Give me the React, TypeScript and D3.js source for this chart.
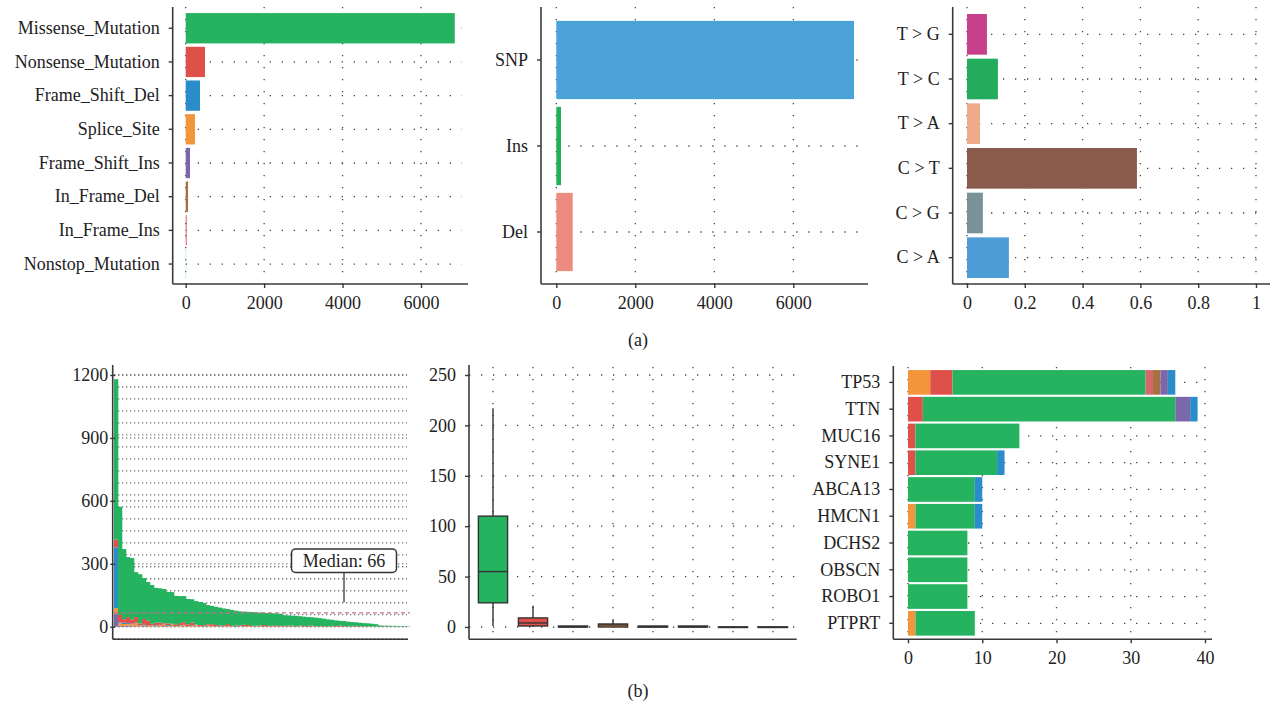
import React, { useEffect, useRef } from 'react';
import * as d3 from 'd3';

// ---- data ----
const mutationClasses = [
  'Missense_Mutation', 'Nonsense_Mutation', 'Frame_Shift_Del', 'Splice_Site',
  'Frame_Shift_Ins', 'In_Frame_Del', 'In_Frame_Ins', 'Nonstop_Mutation',
];
const classCounts = [6861, 492, 365, 237, 110, 59, 25, 10];
const classColors = ['#25b35f', '#e0504a', '#2a8cc8', '#f5953b', '#7a68ab', '#a8703f', '#dc5a60', '#8ccfe6'];

const variantTypes = ['SNP', 'Ins', 'Del'];
const variantCounts = [7537, 119, 415];
const variantColors = ['#4aa2d8', '#23b05a', '#ee8b80'];

const snvClasses = ['T > G', 'T > C', 'T > A', 'C > T', 'C > G', 'C > A'];
const snvFractions = [0.069, 0.107, 0.045, 0.588, 0.055, 0.145];
const snvColors = ['#c8408b', '#24ac5d', '#eeaa8a', '#8a5a4c', '#7a9297', '#4f9dd6'];

// variants per sample (sorted), and the non-missense parts of each bar
const sampleTotals = [
  1180, 572, 370, 332, 327, 260, 250, 232, 213, 199, 185, 183, 180, 166, 165, 147, 146, 146, 132, 131,
  122, 118, 113, 103, 99, 95, 91, 87, 84, 80, 76, 73, 72, 71, 70, 68, 67, 66, 65, 64,
  63, 62, 55, 54, 53, 52, 50, 48, 46, 45, 43, 41, 38, 35, 33, 30, 28, 27, 24, 22,
  21, 19, 17, 16, 14, 12, 6, 5, 5, 4, 4, 3, 3, 2,
];
const sampleNonsense = [
  37, 35, 17, 29, 20, 25, 8, 24, 24, 6, 12, 10, 5, 8, 4, 6, 10, 12, 8, 14,
  3, 5, 4, 6, 8, 5, 3, 4, 9, 2, 3, 4, 6, 5, 3, 2, 4, 6, 3, 2,
  5, 3, 2, 4, 3, 2, 3, 2, 4, 3, 1, 2, 3, 1, 2, 3, 4, 2, 1, 2,
  3, 1, 2, 1, 0, 1, 0, 2, 1, 1, 0, 1, 0, 1,
];
const sampleFrameShiftDel = [
  290, 5, 6, 4, 3, 3, 2, 4, 0, 2, 3, 0, 2, 4, 1, 0, 2, 1, 0, 3,
  1, 0, 2, 0, 1, 0, 2, 0, 1, 0, 3, 0, 1, 0, 0, 2, 0, 1, 0, 0,
  1, 0, 0, 2, 0, 0, 1, 0, 0, 0, 1, 0, 0, 0, 1, 0, 0, 0, 0, 2,
  0, 0, 0, 0, 0, 1, 0, 0, 0, 0, 0, 0, 0, 0,
];
const sampleSplice = [
  28, 12, 10, 8, 9, 16, 4, 6, 3, 5, 2, 8, 6, 3, 7, 2, 4, 6, 2, 3,
  5, 2, 1, 4, 3, 2, 1, 2, 3, 1, 0, 2, 1, 3, 0, 1, 2, 0, 1, 2,
  0, 1, 2, 0, 1, 0, 2, 1, 0, 1, 0, 1, 0, 0, 1, 0, 0, 1, 0, 0,
  1, 0, 0, 0, 1, 0, 0, 0, 0, 0, 0, 0, 0, 0,
];
const sampleFrameShiftIns = [
  60, 4, 3, 5, 2, 2, 1, 3, 2, 1, 2, 1, 3, 1, 2, 1, 1, 2, 1, 0,
  1, 1, 0, 2, 0, 1, 0, 1, 0, 1, 0, 0, 1, 0, 1, 0, 0, 1, 0, 0,
  1, 0, 0, 0, 1, 0, 0, 0, 0, 1, 0, 0, 0, 0, 0, 0, 1, 0, 0, 0,
  0, 0, 0, 0, 0, 0, 0, 0, 0, 0, 0, 0, 0, 0,
];

// variant classification summary (box plot per class)
const boxLow = [1, 0, 0, 0, 0, 0, 0, 0];
const boxQ1 = [24, 1, 0, 0, 0, 0, 0, 0];
const boxMedian = [55, 4, 0, 2, 0, 0, 0, 0];
const boxQ3 = [110, 9, 1, 3, 1, 1, 0, 0];
const boxHigh = [217, 21, 1, 7, 1, 1, 0, 0];

// top 10 mutated genes
const genes = ['TP53', 'TTN', 'MUC16', 'SYNE1', 'ABCA13', 'HMCN1', 'DCHS2', 'OBSCN', 'ROBO1', 'PTPRT'];
const geneSplice = [3, 0, 0, 0, 0, 1, 0, 0, 0, 1];
const geneNonsense = [3, 2, 1, 1, 0, 0, 0, 0, 0, 0];
const geneMissense = [26, 34, 14, 11, 9, 8, 8, 8, 8, 8];
const geneInFrameIns = [1, 0, 0, 0, 0, 0, 0, 0, 0, 0];
const geneInFrameDel = [1, 0, 0, 0, 0, 0, 0, 0, 0, 0];
const geneFrameShiftIns = [1, 2, 0, 0, 0, 0, 0, 0, 0, 0];
const geneFrameShiftDel = [1, 1, 0, 1, 1, 1, 0, 0, 0, 0];

const FONT = "'Liberation Serif', 'Times New Roman', serif";
const FONT_SIZE = '18px';
const AXIS = '#3a3a3a';
const TEXT = '#222';
const colorOf = (cls: string) => classColors[mutationClasses.indexOf(cls)];

type Sel = d3.Selection<SVGGElement, unknown, null, undefined>;

const styleAxis = (a: Sel) => {
  a.select('.domain').remove();
  a.selectAll('line').attr('stroke', AXIS).attr('stroke-width', 1.4);
  a.selectAll('text').attr('fill', TEXT).style('font-family', FONT).style('font-size', FONT_SIZE);
};

const line = (g: Sel, x1: number, y1: number, x2: number, y2: number, dense = false) =>
  g.append('line')
    .attr('x1', x1).attr('y1', y1).attr('x2', x2).attr('y2', y2)
    .attr('stroke', dense ? '#777' : '#444')
    .attr('stroke-width', 1.3)
    .attr('stroke-dasharray', dense ? '1.3,2.7' : '1.3,10.7');

const frame = (g: Sel, left: number, top: number, bottom: number, right: number) => {
  g.append('line').attr('x1', left).attr('x2', left).attr('y1', top).attr('y2', bottom)
    .attr('stroke', AXIS).attr('stroke-width', 1.6);
  g.append('line').attr('x1', left).attr('x2', right).attr('y1', bottom).attr('y2', bottom)
    .attr('stroke', AXIS).attr('stroke-width', 1.6);
};

interface HBarOpts {
  cats: string[];
  values: number[];
  colors: string[];
  x0: number; x1: number; v1: number;
  bandTop: number; bandBottom: number; pad: number;
  axisX: number; axisTop: number; axisY: number; axisRight: number; gridRight: number;
  ticks: number[];
}

const drawHBar = (svg: Sel, o: HBarOpts) => {
  const g = svg.append('g');
  const x = d3.scaleLinear().domain([0, o.v1]).range([o.x0, o.x1]);
  const y = d3.scaleBand<string>().domain(o.cats).range([o.bandTop, o.bandBottom])
    .paddingInner(o.pad).paddingOuter(o.pad / 2);
  o.ticks.forEach(t => line(g, x(t), o.axisTop, x(t), o.axisY));
  o.cats.forEach(c => line(g, x(0), y(c)! + y.bandwidth() / 2, o.gridRight, y(c)! + y.bandwidth() / 2));
  g.selectAll('rect.bar').data(o.cats).enter().append('rect')
    .attr('x', x(0))
    .attr('y', d => y(d)!)
    .attr('width', (_, i) => x(o.values[i]) - x(0))
    .attr('height', y.bandwidth())
    .attr('fill', (_, i) => o.colors[i]);
  frame(g, o.axisX, o.axisTop, o.axisY, o.axisRight);
  g.append('g').attr('transform', `translate(${o.axisX},0)`)
    .call(d3.axisLeft(y).tickSize(4).tickPadding(9)).call(styleAxis);
  g.append('g').attr('transform', `translate(0,${o.axisY})`)
    .call(d3.axisBottom(x).tickValues(o.ticks).tickFormat(d => String(d)).tickSize(4).tickPadding(8))
    .call(styleAxis);
};

const App: React.FC = () => {
  const svgRef = useRef<SVGSVGElement>(null);

  useEffect(() => {
    if (!svgRef.current) return;
    d3.select(svgRef.current).selectAll('*').remove();
    const svg = d3.select(svgRef.current).append('g') as Sel;

    // (a) left: variant classification
    drawHBar(svg, {
      cats: mutationClasses, values: classCounts, colors: classColors,
      x0: 185.7, x1: 421, v1: 6000, bandTop: 11.4, bandBottom: 280.9, pad: 0.1,
      axisX: 172.7, axisTop: 7, axisY: 284, axisRight: 468, gridRight: 462,
      ticks: [0, 2000, 4000, 6000],
    });
    // (a) middle: variant type
    drawHBar(svg, {
      cats: variantTypes, values: variantCounts, colors: variantColors,
      x0: 556.3, x1: 793.3, v1: 6000, bandTop: 17, bandBottom: 275, pad: 0.09,
      axisX: 541, axisTop: 7, axisY: 284, axisRight: 868, gridRight: 867,
      ticks: [0, 2000, 4000, 6000],
    });
    // (a) right: SNV class
    drawHBar(svg, {
      cats: snvClasses, values: snvFractions, colors: snvColors,
      x0: 967, x1: 1256, v1: 1, bandTop: 12, bandBottom: 280, pad: 0.09,
      axisX: 952.7, axisTop: 7, axisY: 284, axisRight: 1270, gridRight: 1267,
      ticks: [0, 0.2, 0.4, 0.6, 0.8, 1],
    });

    // (b) left: variants per sample
    {
      const g = svg.append('g');
      const rows = sampleTotals.map((t, i) => ({
        id: String(i),
        fsi: sampleFrameShiftIns[i],
        splice: sampleSplice[i],
        fsd: sampleFrameShiftDel[i],
        nonsense: sampleNonsense[i],
        missense: t - sampleFrameShiftIns[i] - sampleSplice[i] - sampleFrameShiftDel[i] - sampleNonsense[i],
      }));
      const keys = ['fsi', 'splice', 'fsd', 'nonsense', 'missense'];
      const keyColor: Record<string, string> = {
        fsi: colorOf('Frame_Shift_Ins'), splice: colorOf('Splice_Site'), fsd: colorOf('Frame_Shift_Del'),
        nonsense: colorOf('Nonsense_Mutation'), missense: colorOf('Missense_Mutation'),
      };
      const x = d3.scaleBand<string>().domain(rows.map(r => r.id)).range([114, 410]).padding(0);
      const y = d3.scaleLinear().domain([0, 1200]).range([626.7, 375]);
      const minor = d3.range(-1, 22).map(k => (k * 1200) / 21);
      minor.forEach(v => line(g, 114, y(v), 407, y(v), true));
      [0, 300, 600, 900, 1200].forEach(v => line(g, 114, y(v), 407, y(v), true));
      const stacked = d3.stack<any>().keys(keys)(rows);
      stacked.forEach(layer => {
        g.append('g').selectAll('rect').data(layer).enter().append('rect')
          .attr('x', d => x(d.data.id)!)
          .attr('width', x.bandwidth() + 0.3)
          .attr('y', d => y(d[1]))
          .attr('height', d => Math.max(0, y(d[0]) - y(d[1])))
          .attr('fill', keyColor[layer.key]);
      });
      const med = Math.floor(d3.median(sampleTotals) || 0);
      g.append('line').attr('x1', 114).attr('x2', 410).attr('y1', y(med)).attr('y2', y(med))
        .attr('stroke', '#c3708c').attr('stroke-width', 1.2).attr('stroke-dasharray', '4,3');
      const lx = x('57')! + 2;
      g.append('line').attr('x1', lx).attr('x2', lx).attr('y1', y(116)).attr('y2', y(259))
        .attr('stroke', '#555').attr('stroke-width', 1.5);
      g.append('rect').attr('x', lx - 52.5).attr('y', y(370)).attr('width', 105).attr('height', 23.4)
        .attr('rx', 4).attr('fill', '#fff').attr('stroke', '#333').attr('stroke-width', 1.5);
      g.append('text').attr('x', lx).attr('y', y(370) + 17.5).attr('text-anchor', 'middle')
        .attr('fill', TEXT).style('font-family', FONT).style('font-size', FONT_SIZE)
        .text(`Median: ${med}`);
      frame(g, 112.7, 365, 639.3, 408);
      const ax = g.append('g').attr('transform', 'translate(112.7,0)')
        .call(d3.axisLeft(y).tickValues([0, 300, 600, 900, 1200]).tickFormat(d => String(d))
          .tickSize(2.5).tickPadding(2));
      styleAxis(ax);
      ax.selectAll('.tick line').attr('x1', 2.5);
    }

    // (b) middle: box plot per class
    {
      const g = svg.append('g');
      const x = d3.scaleBand<string>().domain(mutationClasses).range([473, 793]).padding(0);
      const y = d3.scaleLinear().domain([0, 250]).range([627, 375]);
      const yt = [0, 50, 100, 150, 200, 250];
      const bw = x.bandwidth() * 0.73;
      yt.forEach(v => line(g, 469, y(v), 795, y(v)));
      mutationClasses.forEach(c => line(g, x(c)! + x.bandwidth() / 2, 367, x(c)! + x.bandwidth() / 2, 639));
      mutationClasses.forEach((c, i) => {
        const cx = x(c)! + x.bandwidth() / 2;
        g.append('line').attr('x1', cx).attr('x2', cx).attr('y1', y(boxHigh[i])).attr('y2', y(boxLow[i]))
          .attr('stroke', '#333').attr('stroke-width', 1.4);
        g.append('rect').attr('x', cx - bw / 2).attr('width', bw)
          .attr('y', y(boxQ3[i])).attr('height', Math.max(0.5, y(boxQ1[i]) - y(boxQ3[i])))
          .attr('fill', classColors[i]).attr('stroke', '#333').attr('stroke-width', 1.4);
        g.append('line').attr('x1', cx - bw / 2).attr('x2', cx + bw / 2)
          .attr('y1', y(boxMedian[i])).attr('y2', y(boxMedian[i]))
          .attr('stroke', '#333').attr('stroke-width', 1.4);
      });
      frame(g, 469, 365, 639.3, 796.7);
      g.append('g').attr('transform', 'translate(469,0)')
        .call(d3.axisLeft(y).tickValues(yt).tickSize(4).tickPadding(9)).call(styleAxis);
    }

    // (b) right: top 10 genes
    {
      const g = svg.append('g');
      const rows = genes.map((gn, i) => ({
        gene: gn,
        Splice_Site: geneSplice[i],
        Nonsense_Mutation: geneNonsense[i],
        Missense_Mutation: geneMissense[i],
        In_Frame_Ins: geneInFrameIns[i],
        In_Frame_Del: geneInFrameDel[i],
        Frame_Shift_Ins: geneFrameShiftIns[i],
        Frame_Shift_Del: geneFrameShiftDel[i],
      }));
      const keys = ['Splice_Site', 'Nonsense_Mutation', 'Missense_Mutation', 'In_Frame_Ins',
        'In_Frame_Del', 'Frame_Shift_Ins', 'Frame_Shift_Del'];
      const x = d3.scaleLinear().domain([0, 40]).range([908, 1205]);
      const y = d3.scaleBand<string>().domain(genes).range([369, 636.7]).paddingInner(0.08).paddingOuter(0.04);
      const xt = [0, 10, 20, 30, 40];
      xt.forEach(v => line(g, x(v), 367, x(v), 639));
      genes.forEach(gn => line(g, x(0), y(gn)! + y.bandwidth() / 2, 1207, y(gn)! + y.bandwidth() / 2));
      const stacked = d3.stack<any>().keys(keys)(rows);
      stacked.forEach(layer => {
        g.append('g').selectAll('rect').data(layer).enter().append('rect')
          .attr('y', d => y(d.data.gene)!)
          .attr('height', y.bandwidth())
          .attr('x', d => x(d[0]))
          .attr('width', d => x(d[1]) - x(d[0]))
          .attr('fill', layer.key === 'In_Frame_Ins' ? '#d4676c' : colorOf(layer.key));
      });
      frame(g, 893.3, 366, 639.3, 1212);
      g.append('g').attr('transform', 'translate(893.3,0)')
        .call(d3.axisLeft(y).tickSize(4).tickPadding(9)).call(styleAxis);
      g.append('g').attr('transform', 'translate(0,639.3)')
        .call(d3.axisBottom(x).tickValues(xt).tickSize(4).tickPadding(8)).call(styleAxis);
    }

    // captions
    [['(a)', 346], ['(b)', 697]].forEach(([t, yy]) => {
      svg.append('text').attr('x', 638).attr('y', yy as number).attr('text-anchor', 'middle')
        .attr('fill', TEXT).style('font-family', FONT).style('font-size', FONT_SIZE).text(t as string);
    });
  }, []);

  return (
    <svg
      ref={svgRef}
      width={1272}
      height={712}
      style={{ position: 'absolute', left: 0, top: 0, background: '#fff' }}
    />
  );
};

export default App;
